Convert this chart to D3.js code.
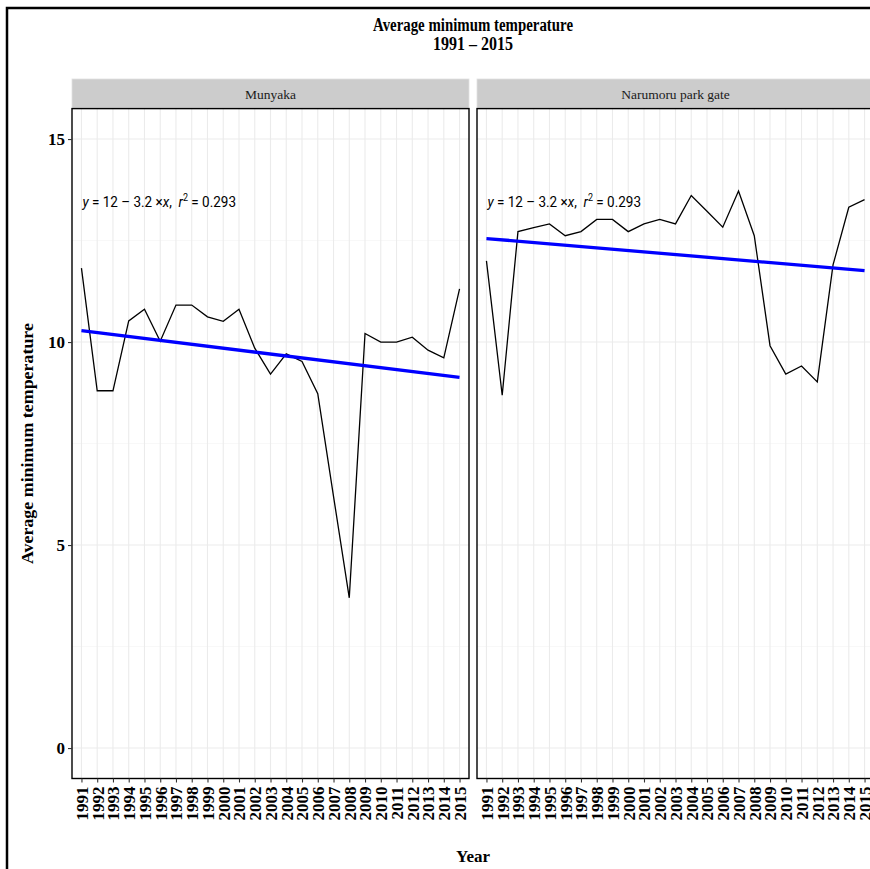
<!DOCTYPE html>
<html>
<head>
<meta charset="utf-8">
<script src="https://cdn.jsdelivr.net/npm/d3@7"></script>
<style>
  body { margin: 0; background: #fff; }
  svg { display: block; }
</style>
</head>
<body>
<div id="chart"></div>
<script>
// Years on the discrete x axis
const years = ["1991","1992","1993","1994","1995","1996","1997","1998","1999","2000",
  "2001","2002","2003","2004","2005","2006","2007","2008","2009","2010",
  "2011","2012","2013","2014","2015"];

// Average minimum temperature per station
const munyaka = [11.82, 8.80, 8.80, 10.52, 10.81, 10.02, 10.91, 10.91, 10.62, 10.51,
  10.81, 9.85, 9.21, 9.71, 9.52, 8.73, 6.20, 3.70, 10.21, 10.00,
  10.00, 10.12, 9.80, 9.61, 11.31];
const narumoru = [12.00, 8.69, 12.72, 12.82, 12.91, 12.62, 12.72, 13.02, 13.02, 12.72,
  12.91, 13.02, 12.91, 13.61, 13.22, 12.83, 13.72, 12.62, 9.91, 9.21,
  9.41, 9.02, 11.90, 13.32, 13.51];

// fitted line, value at first and last year
const munyakaTrend = [10.28, 9.13];
const narumoruTrend = [12.55, 11.76];

const stations = ["Munyaka", "Narumoru park gate"];
const yTicks = [0, 5, 10, 15];
const yMinor = [2.5, 7.5, 12.5];

const panels = [
  {name: stations[0], values: munyaka, trend: munyakaTrend, x0: 72},
  {name: stations[1], values: narumoru, trend: narumoruTrend, x0: 477}
];

const width = 870, height = 869;
const panelW = 397;
const panelTop = 108.6, panelBottom = 778.5;

const svg = d3.select("#chart").append("svg")
  .attr("width", width)
  .attr("height", height);

// outer plot border (runs off the right and bottom edge)
svg.append("rect")
  .attr("x", 7).attr("y", 8)
  .attr("width", 1000).attr("height", 1000)
  .attr("fill", "#fff")
  .attr("stroke", "#000")
  .attr("stroke-width", 2.5);

const y = d3.scaleLinear().domain([-0.75, 15.75]).range([panelBottom, panelTop]);

// title
const title = svg.append("text")
  .attr("font-family", "Liberation Serif")
  .attr("font-weight", "bold")
  .attr("font-size", 18)
  .attr("text-anchor", "middle")
  .attr("fill", "#000");
title.append("tspan").attr("x", 473).attr("y", 31)
  .attr("textLength", 200).attr("lengthAdjust", "spacingAndGlyphs")
  .text("Average minimum temperature");
title.append("tspan").attr("x", 473).attr("y", 50)
  .attr("textLength", 80).attr("lengthAdjust", "spacingAndGlyphs")
  .text("1991 \u2013 2015");

panels.forEach(p => {
  const x = d3.scalePoint().domain(years).range([p.x0, p.x0 + panelW]).padding(0.6);
  const g = svg.append("g");

  // strip
  g.append("rect")
    .attr("x", p.x0).attr("y", 79)
    .attr("width", panelW).attr("height", panelTop - 79)
    .attr("fill", "#cccccc")
    .attr("stroke", "#e0e0e0")
    .attr("stroke-width", 0.8);
  g.append("text")
    .attr("x", p.x0 + panelW / 2).attr("y", 99)
    .attr("text-anchor", "middle")
    .attr("font-family", "Liberation Serif")
    .attr("font-size", 13.5)
    .attr("fill", "#1a1a1a")
    .text(p.name);

  // panel background
  g.append("rect")
    .attr("x", p.x0).attr("y", panelTop)
    .attr("width", panelW).attr("height", panelBottom - panelTop)
    .attr("fill", "#fff");

  // grid
  g.selectAll(".minor").data(yMinor).join("line")
    .attr("x1", p.x0).attr("x2", p.x0 + panelW)
    .attr("y1", d => y(d)).attr("y2", d => y(d))
    .attr("stroke", "#f2f2f2").attr("stroke-width", 0.6);
  g.selectAll(".major").data(yTicks).join("line")
    .attr("x1", p.x0).attr("x2", p.x0 + panelW)
    .attr("y1", d => y(d)).attr("y2", d => y(d))
    .attr("stroke", "#ebebeb").attr("stroke-width", 1.1);
  g.selectAll(".vgrid").data(years).join("line")
    .attr("x1", d => x(d)).attr("x2", d => x(d))
    .attr("y1", panelTop).attr("y2", panelBottom)
    .attr("stroke", "#ebebeb").attr("stroke-width", 1.1);

  // series
  const line = d3.line()
    .x((d, i) => x(years[i]))
    .y(d => y(d));
  g.append("path")
    .datum(p.values)
    .attr("d", line)
    .attr("fill", "none")
    .attr("stroke", "#000")
    .attr("stroke-width", 1.3);

  // fitted line
  g.append("line")
    .attr("x1", x(years[0])).attr("x2", x(years[years.length - 1]))
    .attr("y1", y(p.trend[0])).attr("y2", y(p.trend[1]))
    .attr("stroke", "#0000ff")
    .attr("stroke-width", 3.3);

  // equation label, narrowed to match the condensed face
  const eq = g.append("text")
    .attr("transform", `translate(${x(years[0]) + 1},${y(13.33)}) scale(0.9,1)`)
    .attr("font-family", "Roboto")
    .attr("font-size", 15)
    .style("white-space", "pre")
    .attr("fill", "#000");
  eq.append("tspan").attr("font-style", "italic").text("y");
  eq.append("tspan").text(" = 12 \u2013 3.2 \u00d7");
  eq.append("tspan").attr("font-style", "italic").text("x");
  eq.append("tspan").text(",  ");
  eq.append("tspan").attr("font-style", "italic").text("r");
  eq.append("tspan").attr("font-size", 10).attr("dy", -6).text("2");
  eq.append("tspan").attr("dy", 6).text(" = 0.293");

  // panel border
  g.append("rect")
    .attr("x", p.x0).attr("y", panelTop)
    .attr("width", panelW).attr("height", panelBottom - panelTop)
    .attr("fill", "none")
    .attr("stroke", "#000")
    .attr("stroke-width", 1.4);

  // x axis
  const xa = g.append("g")
    .attr("transform", `translate(0,${panelBottom})`)
    .call(d3.axisBottom(x).tickSize(4).tickPadding(3));
  xa.select(".domain").remove();
  xa.selectAll(".tick line").attr("stroke", "#333").attr("stroke-width", 1.1);
  xa.selectAll(".tick text")
    .attr("font-family", "Liberation Serif")
    .attr("font-weight", "bold")
    .attr("font-size", 17)
    .attr("fill", "#000")
    .attr("text-anchor", "end")
    .attr("transform", "rotate(-90)")
    .attr("x", -8)
    .attr("y", 0)
    .attr("dy", "0.35em");
});

// y axis (left panel only)
const ya = svg.append("g")
  .attr("transform", `translate(72,0)`)
  .call(d3.axisLeft(y).tickValues(yTicks).tickSize(4).tickPadding(3));
ya.select(".domain").remove();
ya.selectAll(".tick line").attr("stroke", "#333").attr("stroke-width", 1.1);
ya.selectAll(".tick text")
  .attr("font-family", "Liberation Serif")
  .attr("font-weight", "bold")
  .attr("font-size", 17)
  .attr("fill", "#000");

// axis titles
svg.append("text")
  .attr("x", 473).attr("y", 862)
  .attr("text-anchor", "middle")
  .attr("font-family", "Liberation Serif")
  .attr("font-weight", "bold")
  .attr("font-size", 17)
  .text("Year");

svg.append("text")
  .attr("transform", `translate(33,${(panelTop + panelBottom) / 2}) rotate(-90)`)
  .attr("text-anchor", "middle")
  .attr("font-family", "Liberation Serif")
  .attr("font-weight", "bold")
  .attr("font-size", 17.5)
  .attr("textLength", 241)
  .attr("lengthAdjust", "spacingAndGlyphs")
  .text("Average minimum temperature");
</script>
</body>
</html>
